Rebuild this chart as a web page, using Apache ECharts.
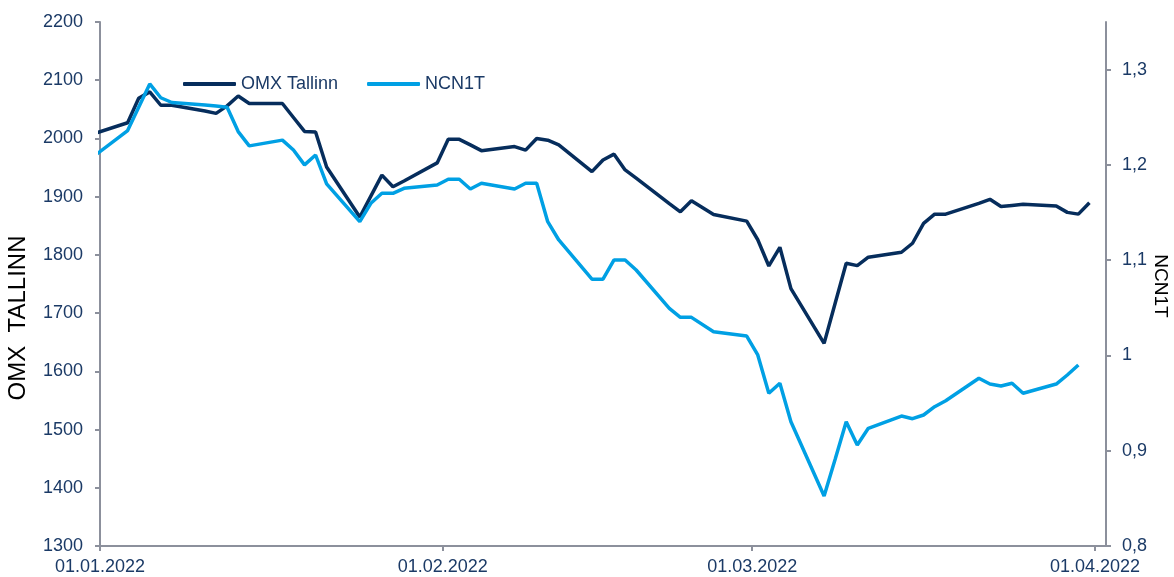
<!DOCTYPE html>
<html>
<head>
<meta charset="utf-8">
<script src="https://cdn.jsdelivr.net/npm/echarts@6/dist/echarts.min.js"></script>
<style>
html,body{margin:0;padding:0;background:#fff;}
#chart{width:1174px;height:577px;}
</style>
</head>
<body>
<div id="chart"></div>
<script>
// Trading days (points drawn at midday of each date)
const dates = [
  '2021-12-31',
  '2022-01-03','2022-01-04','2022-01-05','2022-01-06','2022-01-07',
  '2022-01-10','2022-01-11','2022-01-12','2022-01-13','2022-01-14',
  '2022-01-17','2022-01-18','2022-01-19','2022-01-20','2022-01-21',
  '2022-01-24','2022-01-25','2022-01-26','2022-01-27','2022-01-28',
  '2022-01-31','2022-02-01','2022-02-02','2022-02-03','2022-02-04',
  '2022-02-07','2022-02-08','2022-02-09','2022-02-10','2022-02-11',
  '2022-02-14','2022-02-15','2022-02-16','2022-02-17','2022-02-18',
  '2022-02-21','2022-02-22','2022-02-23','2022-02-25',
  '2022-02-28','2022-03-01','2022-03-02','2022-03-03','2022-03-04',
  '2022-03-07','2022-03-08','2022-03-09','2022-03-10','2022-03-11',
  '2022-03-14','2022-03-15','2022-03-16','2022-03-17','2022-03-18',
  '2022-03-21','2022-03-22','2022-03-23','2022-03-24','2022-03-25',
  '2022-03-28','2022-03-29','2022-03-30','2022-03-31'
];
const omxTallinn = [
  2008.5,
  2027, 2069, 2080, 2057, 2057,
  2047, 2043, 2056, 2073, 2060,
  2060, 2036, 2012, 2011, 1951,
  1865, 1901, 1937, 1917, 1927,
  1958, 1998.5, 1998.5, 1989, 1979,
  1986, 1980, 2000, 1997, 1989,
  1943, 1963, 1973, 1946, 1932,
  1888, 1874, 1893, 1869.5,
  1858, 1826, 1781, 1813, 1742,
  1648, 1717, 1785.5, 1781.5, 1796,
  1804.5, 1820, 1854, 1870, 1870,
  1888.6, 1895.5, 1883, 1885, 1887,
  1884, 1873, 1870, 1889.6
];
const ncn1t = [
  1.2095,
  1.236, 1.2605, 1.285, 1.2705, 1.2655,
  1.263, 1.2618, 1.2605, 1.235, 1.22,
  1.226, 1.2156, 1.2, 1.2104, 1.18,
  1.1404, 1.1597, 1.1702, 1.1702, 1.1754,
  1.1789, 1.1849, 1.1849, 1.1747, 1.1807,
  1.1747, 1.1807, 1.1807, 1.1404, 1.1212,
  1.08, 1.08, 1.1002, 1.1002, 1.0897,
  1.0495, 1.04, 1.04, 1.0249,
  1.0204, 1.0005, 0.9603, 0.9708, 0.9305,
  0.8525, 0.891, 0.9305, 0.906, 0.9235,
  0.9364, 0.9336, 0.9375, 0.9462, 0.9525,
  0.976, 0.97, 0.968, 0.9708, 0.9603,
  0.97, 0.9795, 0.99, null
];
const xTickDates = ['2022-01-01','2022-02-01','2022-03-01','2022-04-01'];
const rightTicks = [0.8,0.9,1.0,1.1,1.2,1.3];

function toTs(s, hour){
  const p = s.split('-').map(Number);
  return new Date(p[0], p[1]-1, p[2], hour||0).getTime();
}
function pad(n){return (n<10?'0':'')+n;}

const omxData = dates.map((d,i)=>[toTs(d,12), omxTallinn[i]]);
const ncnData = dates.map((d,i)=>[toTs(d,12), ncn1t[i]]);
const xTicks = xTickDates.map(d=>toTs(d));

const FONT = 'Liberation Sans, Arial, sans-serif';
const TXT = '#1b3a66';
const AXIS = '#8c909c';
const DARK = '#062d5c';
const LIGHT = '#00a0e4';

const chart = echarts.init(document.getElementById('chart'), null, {renderer:'canvas'});
chart.setOption({
  animation:false,
  backgroundColor:'#ffffff',
  textStyle:{fontFamily:FONT},
  grid:{left:100,right:68,top:22,bottom:31,containLabel:false,outerBoundsMode:'none'},
  legend:{
    data:['OMX Tallinn','NCN1T'],
    left:178, top:70,
    icon:'roundRect',
    itemWidth:53, itemHeight:4,
    itemGap:29,
    textStyle:{color:TXT,fontSize:18,fontFamily:FONT}
  },
  graphic:[
    {type:'text', x:18, y:318, rotation:Math.PI/2,
     style:{text:'OMX  TALLINN', fill:'#000', font:'24px Liberation Sans, Arial, sans-serif', align:'center', verticalAlign:'middle'}},
    {type:'text', x:1160, y:286, rotation:-Math.PI/2,
     style:{text:'NCN1T', fill:'#000', font:'19px Liberation Sans, Arial, sans-serif', align:'center', verticalAlign:'middle'}}
  ],
  xAxis:{
    type:'value',
    min:toTs('2022-01-01'),
    max:toTs('2022-04-02'),
    axisLine:{show:true,lineStyle:{color:AXIS,width:2}},
    axisTick:{show:true,length:5,lineStyle:{color:AXIS,width:2},customValues:xTicks},
    axisLabel:{
      color:TXT,fontSize:18,fontFamily:FONT,margin:12,
      customValues:xTicks,
      formatter:function(v){const d=new Date(v);return pad(d.getDate())+'.'+pad(d.getMonth()+1)+'.'+d.getFullYear();}
    },
    splitLine:{show:false}
  },
  yAxis:[
    {
      type:'value', min:1300, max:2200, interval:100, position:'left',
      axisLine:{show:true,lineStyle:{color:AXIS,width:2}},
      axisTick:{show:true,length:5,lineStyle:{color:AXIS,width:2}},
      axisLabel:{color:TXT,fontSize:18,fontFamily:FONT,margin:17,formatter:function(v){return String(v);}},
      splitLine:{show:false}
    },
    {
      type:'value', min:0.8, max:1.35, position:'right',
      axisLine:{show:true,lineStyle:{color:AXIS,width:2}},
      axisTick:{show:true,length:5,lineStyle:{color:AXIS,width:2},customValues:rightTicks},
      axisLabel:{color:TXT,fontSize:18,fontFamily:FONT,margin:16,customValues:rightTicks,
        formatter:function(v){return String(Math.round(v*10)/10).replace('.',',');}},
      splitLine:{show:false}
    }
  ],
  series:[
    {name:'OMX Tallinn',type:'line',yAxisIndex:0,data:omxData,symbol:'none',
     lineStyle:{color:DARK,width:3.5},itemStyle:{color:DARK},clip:true},
    {name:'NCN1T',type:'line',yAxisIndex:1,data:ncnData,symbol:'none',
     lineStyle:{color:LIGHT,width:3.5},itemStyle:{color:LIGHT},clip:true,connectNulls:false}
  ]
});
</script>
</body>
</html>
